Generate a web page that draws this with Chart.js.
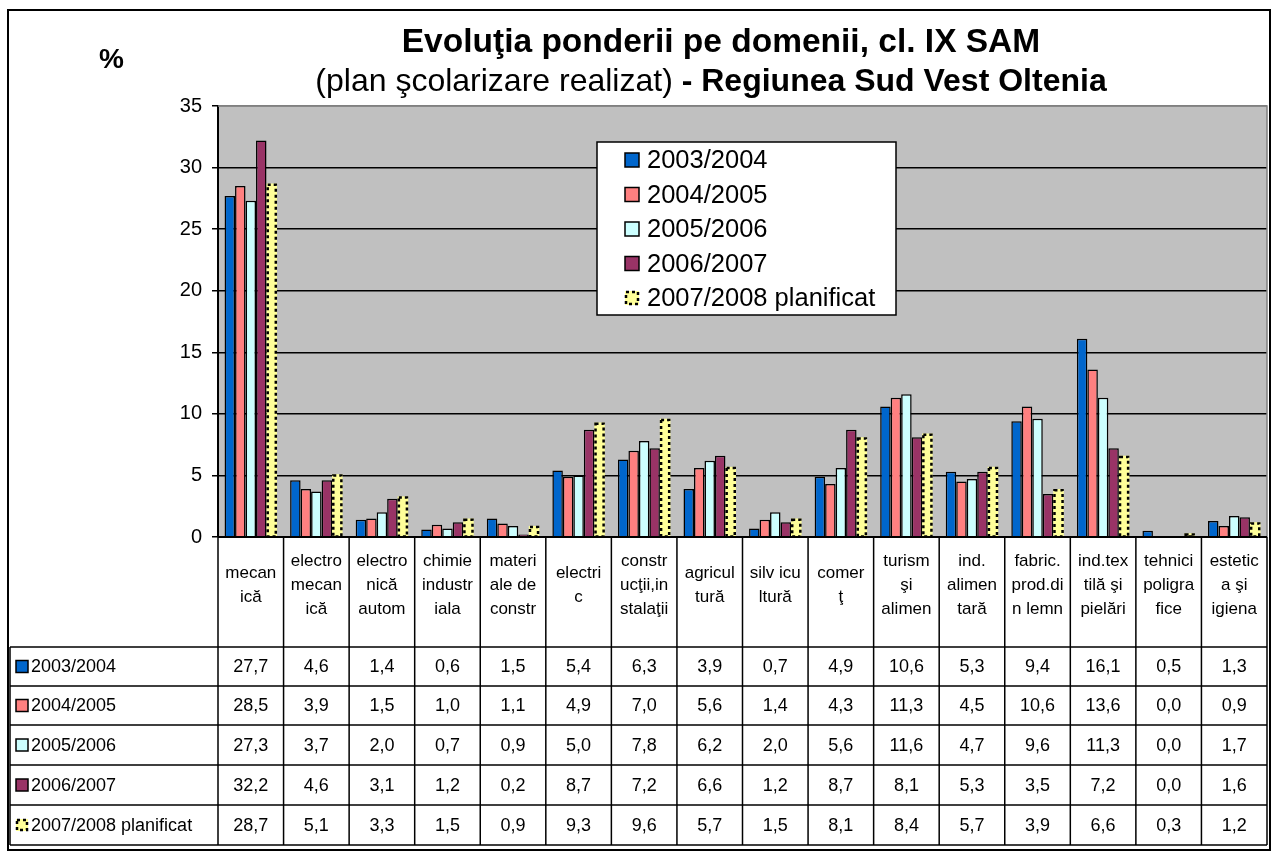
<!DOCTYPE html>
<html>
<head>
<meta charset="utf-8">
<script src="https://cdn.jsdelivr.net/npm/chart.js@4.4.1/dist/chart.umd.min.js"></script>
<style>
html,body{margin:0;padding:0;background:#fff;}
canvas{display:block;}
</style>
</head>
<body>
<canvas id="c" width="1272" height="853"></canvas>
<script>
const CATEGORIES = [
  ["mecan","ică"],
  ["electro","mecan","ică"],
  ["electro","nică","autom"],
  ["chimie","industr","iala"],
  ["materi","ale de","constr"],
  ["electri","c"],
  ["constr","ucţii,in","stalaţii"],
  ["agricul","tură"],
  ["silv icu","ltură"],
  ["comer","ţ"],
  ["turism","şi","alimen"],
  ["ind.","alimen","tară"],
  ["fabric.","prod.di","n lemn"],
  ["ind.tex","tilă şi","pielări"],
  ["tehnici","poligra","fice"],
  ["estetic","a şi","igiena"]
];
const SERIES_LABELS = ["2003/2004","2004/2005","2005/2006","2006/2007","2007/2008 planificat"];
const S2003 = [27.7,4.6,1.4,0.6,1.5,5.4,6.3,3.9,0.7,4.9,10.6,5.3,9.4,16.1,0.5,1.3];
const S2004 = [28.5,3.9,1.5,1.0,1.1,4.9,7.0,5.6,1.4,4.3,11.3,4.5,10.6,13.6,0.0,0.9];
const S2005 = [27.3,3.7,2.0,0.7,0.9,5.0,7.8,6.2,2.0,5.6,11.6,4.7,9.6,11.3,0.0,1.7];
const S2006 = [32.2,4.6,3.1,1.2,0.2,8.7,7.2,6.6,1.2,8.7,8.1,5.3,3.5,7.2,0.0,1.6];
const S2007 = [28.7,5.1,3.3,1.5,0.9,9.3,9.6,5.7,1.5,8.1,8.4,5.7,3.9,6.6,0.3,1.2];
const Y_TICKS = [0,5,10,15,20,25,30,35];
const TITLE_LINE1 = "Evoluţia ponderii pe domenii, cl. IX SAM";
const TITLE_LINE2A = "(plan şcolarizare realizat)";
const TITLE_LINE2B = " - Regiunea Sud Vest Oltenia";
const Y_UNIT = "%";

const COLORS = ["#0066CC","#FF8080","#CCFFFF","#993366","#FFFF99"];
const FONT = '"Liberation Sans", Arial, sans-serif';
const ALL = [S2003,S2004,S2005,S2006,S2007];

const fmt = v => v.toFixed(1).replace('.', ',');

function dashedRect(ctx, x, y, w, h, lw) {
  ctx.save();
  ctx.strokeStyle = '#000';
  ctx.lineWidth = lw;
  ctx.setLineDash([3,3]);
  ctx.strokeRect(x, y, w, h);
  ctx.restore();
}

function drawKey(ctx, i, x, y, s) {
  ctx.save();
  ctx.fillStyle = COLORS[i];
  ctx.fillRect(x, y, s, s);
  if (i === 4) {
    dashedRect(ctx, x + 1, y + 1, s - 2, s - 2, 2.5);
  } else {
    ctx.strokeStyle = '#000';
    ctx.lineWidth = 1.5;
    ctx.strokeRect(x, y, s, s);
  }
  ctx.restore();
}

const bgPlugin = {
  id: 'bg',
  beforeDraw(chart) {
    const {ctx, chartArea: a} = chart;
    ctx.save();
    ctx.fillStyle = '#fff';
    ctx.fillRect(0, 0, chart.width, chart.height);
    ctx.fillStyle = '#C0C0C0';
    ctx.fillRect(a.left, a.top, a.right - a.left, a.bottom - a.top);
    ctx.restore();
  }
};

const dashPlugin = {
  id: 'dash',
  afterDatasetsDraw(chart) {
    const ctx = chart.ctx;
    const meta = chart.getDatasetMeta(4);
    meta.data.forEach(el => {
      const p = el.getProps(['x','y','base','width'], true);
      const l = p.x - p.width / 2, t = Math.min(p.y, p.base), h = Math.abs(p.base - p.y);
      if (h < 0.5) return;
      dashedRect(ctx, l + 1.2, t + 1.2, p.width - 2.4, h - 1, 2.5);
    });
  }
};

const decorPlugin = {
  id: 'decor',
  afterDraw(chart) {
    const ctx = chart.ctx;
    const a = chart.chartArea;
    const xs = chart.scales.x;
    ctx.save();

    // plot area top/right border
    ctx.strokeStyle = '#808080';
    ctx.lineWidth = 1.5;
    ctx.beginPath();
    ctx.moveTo(a.left, a.top); ctx.lineTo(a.right, a.top); ctx.lineTo(a.right, a.bottom);
    ctx.stroke();

    // titles
    ctx.fillStyle = '#000';
    ctx.textBaseline = 'middle';
    ctx.textAlign = 'left';
    ctx.font = 'bold 33.5px ' + FONT;
    let w1 = ctx.measureText(TITLE_LINE1).width;
    ctx.fillText(TITLE_LINE1, 721 - w1 / 2, 43);
    ctx.font = '32px ' + FONT;
    const wa = ctx.measureText(TITLE_LINE2A).width;
    ctx.font = 'bold 32px ' + FONT;
    const wb = ctx.measureText(TITLE_LINE2B).width;
    let x0 = 711 - (wa + wb) / 2;
    ctx.font = '32px ' + FONT;
    ctx.fillText(TITLE_LINE2A, x0, 82);
    ctx.font = 'bold 32px ' + FONT;
    ctx.fillText(TITLE_LINE2B, x0 + wa, 82);
    ctx.font = 'bold 28px ' + FONT;
    ctx.fillText(Y_UNIT, 99, 60);

    // legend box
    ctx.fillStyle = '#fff';
    ctx.fillRect(597, 142, 299, 173);
    ctx.strokeStyle = '#000';
    ctx.lineWidth = 1.5;
    ctx.strokeRect(597, 142, 299, 173);
    ctx.font = '25.5px ' + FONT;
    SERIES_LABELS.forEach((lab, i) => {
      const cy = 160 + i * 34.5;
      drawKey(ctx, i, 625, cy - 7, 14);
      ctx.fillStyle = '#000';
      ctx.fillText(lab, 647, cy + 1);
    });

    // data table
    const colW = xs.getPixelForValue(1) - xs.getPixelForValue(0);
    const rowsY = [647, 686, 725, 765, 805, 845];
    const tLeft = 10;
    ctx.strokeStyle = '#000';
    ctx.lineWidth = 1.5;
    ctx.beginPath();
    for (let c = 0; c <= CATEGORIES.length; c++) {
      const x = xs.getPixelForValue(0) - colW / 2 + c * colW;
      ctx.moveTo(x, a.bottom); ctx.lineTo(x, rowsY[rowsY.length - 1]);
    }
    rowsY.forEach(y => { ctx.moveTo(tLeft, y); ctx.lineTo(a.right, y); });
    ctx.moveTo(tLeft, rowsY[0]); ctx.lineTo(tLeft, rowsY[rowsY.length - 1]);
    ctx.stroke();

    // x axis line
    ctx.lineWidth = 2;
    ctx.beginPath();
    ctx.moveTo(a.left, a.bottom); ctx.lineTo(a.right, a.bottom);
    ctx.stroke();

    ctx.fillStyle = '#000';
    ctx.textAlign = 'center';
    ctx.font = '17px ' + FONT;
    CATEGORIES.forEach((lines, c) => {
      const cx = xs.getPixelForValue(c);
      const n = lines.length;
      lines.forEach((ln, k) => {
        ctx.fillText(ln, cx, 585 + (k - (n - 1) / 2) * 24);
      });
    });
    ctx.font = '18px ' + FONT;
    ALL.forEach((series, r) => {
      const cy = (rowsY[r] + rowsY[r + 1]) / 2;
      ctx.textAlign = 'left';
      drawKey(ctx, r, 16, cy - 6, 12);
      ctx.fillStyle = '#000';
      ctx.fillText(SERIES_LABELS[r], 31, cy + 1);
      ctx.textAlign = 'center';
      series.forEach((v, c) => {
        ctx.fillText(fmt(v), xs.getPixelForValue(c), cy + 1);
      });
    });

    // outer border
    ctx.lineWidth = 2;
    ctx.strokeRect(8, 10, 1262, 840);
    ctx.restore();
  }
};

new Chart(document.getElementById('c'), {
  type: 'bar',
  data: {
    labels: CATEGORIES.map(l => l.join(' ')),
    datasets: ALL.map((d, i) => ({
      label: SERIES_LABELS[i],
      data: d,
      backgroundColor: COLORS[i],
      borderColor: '#000',
      borderWidth: i === 4 ? 0 : 1.5,
      borderSkipped: 'bottom',
      categoryPercentage: 0.8,
      barPercentage: 1.0
    }))
  },
  options: {
    responsive: false,
    animation: false,
    devicePixelRatio: 1,
    layout: {padding: {left: 0, right: 5, top: 106, bottom: 316}},
    plugins: {legend: {display: false}, title: {display: false}, tooltip: {enabled: false}},
    scales: {
      x: {display: false, offset: true},
      y: {
        min: 0, max: 35,
        afterFit: s => { s.width = 218; },
        afterBuildTicks: s => { s.ticks = Y_TICKS.map(v => ({value: v})); },
        grid: {
          color: c => (c.tick && c.tick.value === 35) ? '#808080' : '#000',
          lineWidth: 1.5,
          tickLength: 6,
          tickColor: '#000'
        },
        border: {display: true, color: '#000', width: 2},
        ticks: {
          color: '#000',
          padding: 10,
          font: {family: '"Liberation Sans", Arial, sans-serif', size: 20}
        }
      }
    }
  },
  plugins: [bgPlugin, dashPlugin, decorPlugin]
});
</script>
</body>
</html>
